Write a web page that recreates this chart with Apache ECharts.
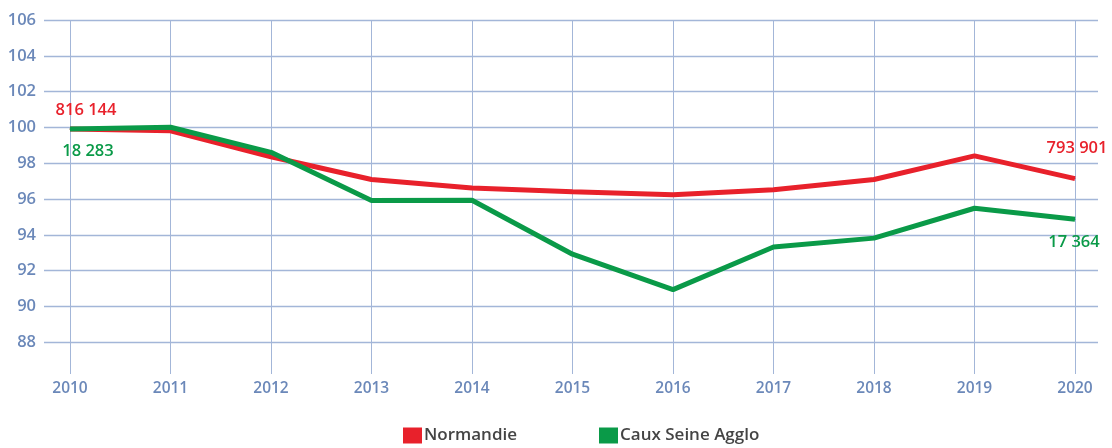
<!DOCTYPE html>
<html lang="fr">
<head>
    <meta charset="UTF-8">
    <title>Population indice</title>
    <style>
        html, body { margin: 0; padding: 0; background: #fff; }
        #chart1 { width: 1112px; height: 448px; }
    </style>
</head>
<body>
<div id="chart1"></div>
<script src="https://cdn.jsdelivr.net/npm/echarts@6/dist/echarts.min.js"></script>
<script type="text/javascript">
    var years = ['2010', '2011', '2012', '2013', '2014', '2015', '2016', '2017', '2018', '2019', '2020'];
    var normandie = [99.9, 99.8, 98.35, 97.08, 96.6, 96.4, 96.22, 96.5, 97.08, 98.4, 97.13];
    var caux = [99.9, 100.0, 98.6, 95.9, 95.92, 92.9, 90.92, 93.3, 93.8, 95.47, 94.85];
    var normandieLabels = ['816 144', '793 901'];   // premier / dernier point
    var cauxLabels = ['18 283', '17 364'];

    var red = '#e8212b', green = '#0a9a48';
    var axisBlue = '#6b88b9', gridBlue = '#a3b6d8';
    var font = '"Open Sans", "Noto Sans", sans-serif';

    var chart1 = echarts.init(document.getElementById('chart1'));

    // etiquettes seulement aux extremites
    function endLabels(values, texts, color, firstOff, lastOff) {
        return values.map(function (v, i) {
            if (i === 0) {
                return {value: v, label: {show: true, formatter: texts[0], color: color, offset: firstOff}};
            }
            if (i === values.length - 1) {
                return {value: v, label: {show: true, formatter: texts[1], color: color, offset: lastOff}};
            }
            return v;
        });
    }

    chart1.setOption({
        animation: false,
        textStyle: {fontFamily: font},
        grid: [
            {left: 44, right: 14, top: 20, bottom: 70},   // lignes horizontales + axe y
            {left: 70, right: 37, top: 20, bottom: 74}    // donnees + lignes verticales
        ],
        legend: {
            bottom: 4,
            left: 403,
            padding: 0,
            icon: 'rect',
            itemWidth: 19,
            itemHeight: 16,
            itemGap: 82,
            textStyle: {color: '#444', fontSize: 17, fontWeight: 600, fontFamily: font, padding: [0, 0, 0, -3]},
            data: ['Normandie', 'Caux Seine Agglo']
        },
        xAxis: [{
            gridIndex: 0, type: 'value', min: 0, max: 1, show: false
        }, {
            gridIndex: 1,
            type: 'category',
            boundaryGap: false,
            data: years,
            axisLine: {show: false},
            axisTick: {show: false},
            axisLabel: {color: axisBlue, fontSize: 15.5, fontWeight: 600, margin: 7},
            splitLine: {show: true, lineStyle: {color: gridBlue, width: 1}}
        }],
        yAxis: [{
            gridIndex: 0,
            type: 'value',
            min: 86,
            max: 106,
            interval: 2,
            axisLine: {show: false},
            axisTick: {show: false},
            axisLabel: {color: axisBlue, fontSize: 16.5, fontWeight: 600, margin: 8, showMinLabel: false},
            splitLine: {show: true, showMinLine: false, lineStyle: {color: gridBlue, width: 1.3}}
        }, {
            gridIndex: 1,
            type: 'value',
            min: 86.2,
            max: 106,
            show: false,
            splitLine: {show: false}
        }],
        series: [{
            name: 'Normandie',
            type: 'line',
            xAxisIndex: 1,
            yAxisIndex: 1,
            data: endLabels(normandie, normandieLabels, red, [16, -2], [2, -13]),
            symbol: 'circle',
            symbolSize: 1,
            showSymbol: true,
            itemStyle: {color: red},
            lineStyle: {color: red, width: 5},
            label: {position: 'top', fontSize: 16.5, fontWeight: 600, distance: 8},
            z: 3
        }, {
            name: 'Caux Seine Agglo',
            type: 'line',
            xAxisIndex: 1,
            yAxisIndex: 1,
            data: endLabels(caux, cauxLabels, green, [18, 4], [-1, 5]),
            symbol: 'circle',
            symbolSize: 1,
            showSymbol: true,
            itemStyle: {color: green},
            lineStyle: {color: green, width: 5},
            label: {position: 'bottom', fontSize: 16.5, fontWeight: 600, distance: 9},
            z: 4
        }]
    });
</script>
</body>
</html>
